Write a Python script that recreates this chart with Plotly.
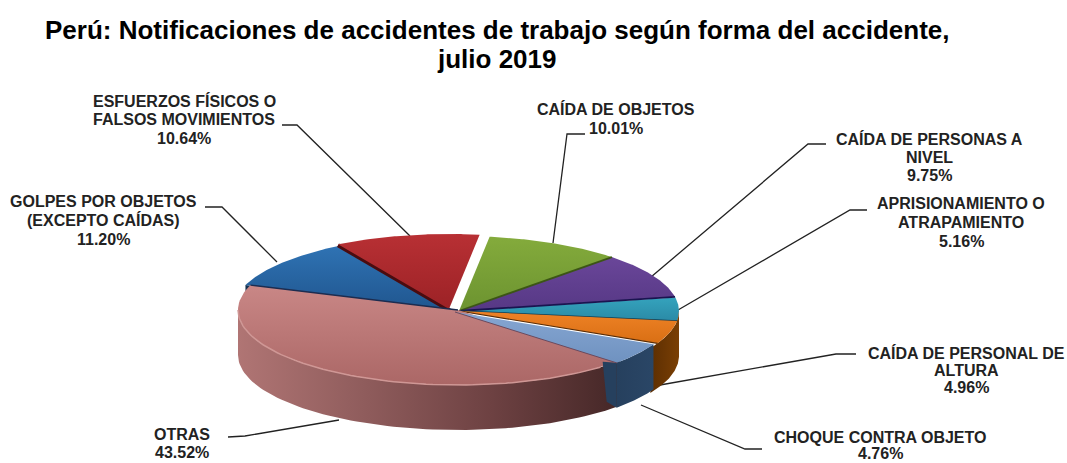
import numpy as np
import plotly.graph_objects as go

# ---- data (clockwise, starting at the green slice)
categories = ["CAÍDA DE OBJETOS", "CAÍDA DE PERSONAS A NIVEL", "APRISIONAMIENTO O ATRAPAMIENTO",
              "CAÍDA DE PERSONAL DE ALTURA", "CHOQUE CONTRA OBJETO", "OTRAS",
              "GOLPES POR OBJETOS (EXCEPTO CAÍDAS)", "ESFUERZOS FÍSICOS O FALSOS MOVIMIENTOS"]
values = [10.01, 9.75, 5.16, 4.96, 4.76, 43.52, 11.20, 10.64]
label_lines = [["CAÍDA DE OBJETOS"], ["CAÍDA DE PERSONAS A", "NIVEL"], ["APRISIONAMIENTO O", "ATRAPAMIENTO"],
               ["CAÍDA DE PERSONAL DE", "ALTURA"], ["CHOQUE CONTRA OBJETO"], ["OTRAS"],
               ["GOLPES POR OBJETOS", "(EXCEPTO CAÍDAS)"], ["ESFUERZOS FÍSICOS O", "FALSOS MOVIMIENTOS"]]
title_lines = ["Perú: Notificaciones de accidentes de trabajo según forma del accidente,", "julio 2019"]

# ---- styling
top_colors = [("#84ab3c", "#6c9330"), ("#6a4699", "#563885"), ("#35a3bd", "#2a8aa6"), ("#ee8226", "#d96f14"),
              ("#86a6d2", "#6f92c0"), ("#c98786", "#ab6766"), ("#2f73b4", "#20568f"), ("#b83034", "#9c2226")]
offsets = [(1, 1), (1, 1), (1, 1), (1, 1), (-3, 2), (0, 0), (-5, 0), (-9, -1)]
cx, cy, a, b, depth = 458, 310, 220, 75, 45
start_deg = 8.0

label_anchor = [(616, [109, 128]), (929, [139, 157, 175]), (961, [203, 222, 241]), (966, [353, 370, 387]),
                (880, [437, 453]), (182, [434, 452]), (103, [201, 220, 239]), (184, [101, 119, 138])]
leader_x = [[585, 567, 553], [826, 808, 651], [867, 850, 678], [856, 836, 660],
            [762, 745, 641], [228, 245, 339], [205, 222, 277], [282, 297, 410]]
leader_y = [[134, 134, 243], [144, 144, 277], [210, 210, 310], [354, 354, 385],
            [449, 449, 405], [437, 436, 420], [207, 207, 262], [125, 125, 236]]

LABEL_SIZE, TITLE_SIZE = 16, 26
FONT = "Liberation Sans"

# ---- geometry derived from the values
edges = start_deg + np.concatenate([[0], np.cumsum(values)]) * 3.6 * 100 / sum(values)


def rim(t0, t1, off=(0, 0), down=0):
    t = np.radians(np.linspace(t0, t1, 80))
    return cx + off[0] + a * np.sin(t), cy + off[1] + down - b * np.cos(t)


fig = go.Figure()


def poly(x, y, colors=None, solid=None, kind="vertical"):
    tr = dict(x=list(x), y=list(y), mode="lines", fill="toself", line=dict(width=0),
              hoverinfo="skip", showlegend=False)
    if colors:
        cs = [[i / (len(colors) - 1), c] for i, c in enumerate(colors)]
        tr["fillgradient"] = dict(type=kind, colorscale=cs)
    else:
        tr["fillcolor"] = solid
    fig.add_trace(go.Scatter(**tr))


def line(x, y, color, width):
    fig.add_trace(go.Scatter(x=list(x), y=list(y), mode="lines", line=dict(color=color, width=width),
                             hoverinfo="skip", showlegend=False))


def top(i):
    x, y = rim(edges[i], edges[i + 1], offsets[i])
    ax, ay = cx + offsets[i][0], cy + offsets[i][1]
    poly(np.r_[ax, x], np.r_[ay, y], colors=list(top_colors[i])[::-1])


def wall(i, t0, t1, colors):
    x, y = rim(t0, t1, offsets[i])
    x2, y2 = rim(t0, t1, offsets[i], depth)
    poly(np.r_[x, x2[::-1]], np.r_[y, y2[::-1]], colors=colors, kind="horizontal")


def radial(i, at_end, color, width, shift=(0, 0)):
    t = edges[i + 1] if at_end else edges[i]
    x, y = rim(t, t, offsets[i])
    line([cx + offsets[i][0] + shift[0], x[0] + shift[0]], [cy + offsets[i][1] + shift[1], y[0] + shift[1]],
         color, width)


# leader lines
for xs, ys in zip(leader_x, leader_y):
    line(xs, ys, "#222222", 1.3)

# back cut faces
gx, gy = rim(edges[6], edges[6], offsets[6])
poly([cx - 5, gx[0], gx[0], cx - 5], [cy, gy[0], gy[0] + depth, cy + depth], solid="#12304f")

# back slices
top(6)
radial(7, False, "#4a0c10", 4, shift=(0, 1))
for i in (7, 0, 1, 2):
    top(i)
radial(0, True, "#3c5516", 1.8)
radial(1, True, "#1a1450", 1.8)
radial(2, True, "#123c50", 1.5)

# front walls and front slices
wall(3, 90, edges[4] + 4, ["#5c2e02", "#7a3f04"])
top(3)
radial(3, True, "#5a2c04", 1.2)
wall(5, edges[5], 270, ["#b07574", "#8f5c5c", "#6d4142", "#452727"])
top(5)
radial(5, True, "#1c2c50", 1.5)
rx, ry = rim(edges[5], 270, offsets[5])
line(rx[4:], ry[4:], "#cf9795", 1.5)

wall(4, edges[4], edges[5], ["#26405e", "#2a4666"])
tx, ty = rim(edges[5], edges[5], offsets[4])
poly([tx[0], tx[0] - 14, tx[0] - 10, tx[0]],
     [ty[0], ty[0] - 1, ty[0] + depth - 6, ty[0] + depth],
     solid="#26405e")
top(4)
radial(4, True, "#6a4a5e", 1)

annotations = []


def put_text(x, y, text, size, color):
    annotations.append(dict(x=x, y=y, xref="x", yref="y", text=text, showarrow=False, xanchor="center",
                            yanchor="middle", font=dict(family=FONT, size=size, color=color)))


for (lx, ys), lines, v in zip(label_anchor, label_lines, values):
    for yy, t in zip(ys, lines + [f"{v:.2f}%"]):
        put_text(lx, yy, f"<b>{t}</b>", LABEL_SIZE, "#222222")

put_text(497, 30, f"<b>{title_lines[0]}</b>", TITLE_SIZE, "#000000")
put_text(497, 59, f"<b>{title_lines[1]}</b>", TITLE_SIZE, "#000000")

fig.update_layout(width=1067, height=463, margin=dict(l=0, r=0, t=0, b=0), autosize=False,
                  paper_bgcolor="white", plot_bgcolor="white", showlegend=False, annotations=annotations,
                  xaxis=dict(visible=False, range=[0, 1067], fixedrange=True),
                  yaxis=dict(visible=False, range=[463, 0], fixedrange=True))
fig.write_html("out.html", config=dict(displayModeBar=False),
               post_script="document.body.style.margin='0';document.documentElement.style.overflow='hidden';")
